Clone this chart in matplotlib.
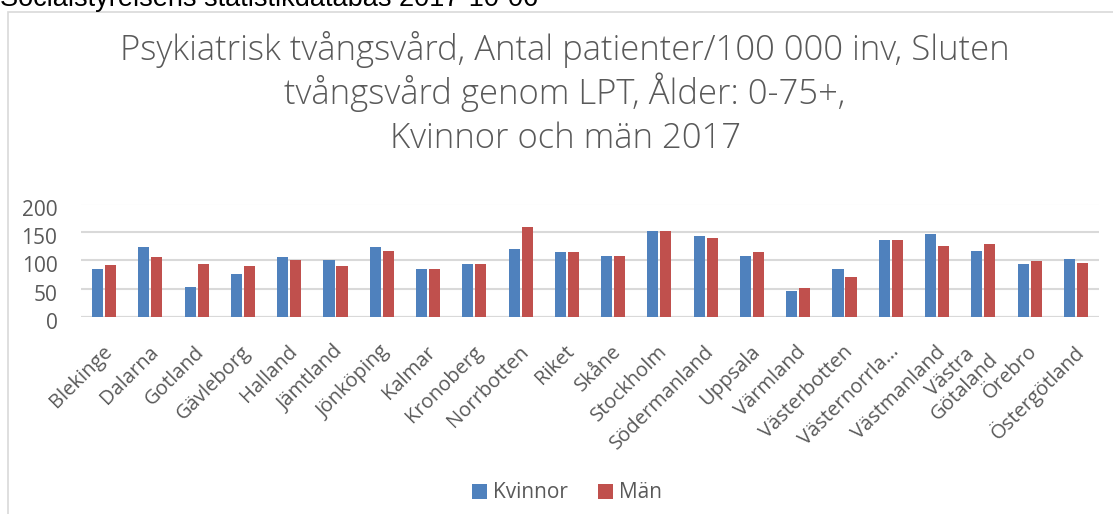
import matplotlib
matplotlib.use("Agg")
import matplotlib.pyplot as plt
from matplotlib.patches import Rectangle
from matplotlib.transforms import ScaledTranslation
import numpy as np

# data
regions = ["Blekinge", "Dalarna", "Gotland", "Gävleborg", "Halland", "Jämtland",
           "Jönköping", "Kalmar", "Kronoberg", "Norrbotten", "Riket", "Skåne",
           "Stockholm", "Södermanland", "Uppsala", "Värmland", "Västerbotten",
           "Västernorrla…", "Västmanland", "Västra\nGötaland", "Örebro", "Östergötland"]
kvinnor = [85, 123, 53, 75, 105, 101, 123, 85, 94, 119, 114, 107,
           152, 143, 107, 46, 84, 135, 146, 116, 94, 103]
man = [91, 105, 94, 89, 100, 89, 116, 84, 94, 159, 114, 107,
       152, 139, 114, 51, 71, 135, 125, 128, 98, 96]
yticks = [0, 50, 100, 150, 200]

blue = "#4F81BD"
red = "#C0504D"
grey_txt = "#595959"
W, H = 1113, 514

plt.rcParams['font.family'] = ['Open Sans', 'DejaVu Sans']
fig = plt.figure(figsize=(W / 100, H / 100), dpi=100)

# chart frame (cropped at right/bottom)
fig.patches.append(Rectangle((8 / W, -0.1), 1.2, 1 - 12 / H + 0.1, transform=fig.transFigure,
                             fill=False, edgecolor="#D9D9D9", linewidth=1.2))
fig.text(0, 1 - 6 / H, "Socialstyrelsens statistikdatabas 2017-10-06", fontsize=19.5,
         family="Liberation Sans", va="baseline", ha="left", color="black")

ax = fig.add_axes([81 / W, 1 - 317 / H, (1099 - 81) / W, (317 - 203.5) / H])
x = np.arange(len(regions))
bw = 0.24
ax.bar(x - 0.14, kvinnor, bw, color=blue, label="Kvinnor", zorder=3)
ax.bar(x + 0.14, man, bw, color=red, label="Män", zorder=3)

ax.set_xlim(-0.5, len(regions) - 0.5)
ax.set_ylim(0, 200)
ax.set_yticks(yticks)
ax.yaxis.grid(True, color="#D9D9D9", linewidth=1.5, zorder=0)
for s in ["top", "right", "left", "bottom"]:
    ax.spines[s].set_visible(False)
ax.axhline(0, color="#D9D9D9", linewidth=1.5, zorder=2)
ax.tick_params(axis="both", length=0, colors=grey_txt)
ax.tick_params(axis="y", labelsize=15, pad=17)
for lab in ax.get_yticklabels():
    lab.set_transform(lab.get_transform() + ScaledTranslation(0, -4 / 100, fig.dpi_scale_trans))

ax.set_xticks(x)
ax.set_xticklabels(regions, rotation=45, ha="right", va="center", rotation_mode="anchor",
                   fontsize=14.5, color=grey_txt, linespacing=1.0, multialignment="center")
ax.tick_params(axis="x", pad=23)
for lab in ax.get_xticklabels():
    lab.set_transform(lab.get_transform() + ScaledTranslation(5 / 100, 0, fig.dpi_scale_trans))

title_lines = ["Psykiatrisk tvångsvård, Antal patienter/100 000 inv, Sluten",
               "tvångsvård genom LPT, Ålder: 0-75+,",
               "Kvinnor och män 2017"]
for i, line in enumerate(title_lines):
    fig.text(565 / W, 1 - (60 + 44 * i) / H, line, ha="center", va="baseline",
             fontsize=24.9, color=grey_txt, fontweight="light")

fig.legend(loc="center", bbox_to_anchor=(567 / W, 1 - 493 / H), ncol=2, frameon=False,
           fontsize=15, labelcolor=grey_txt, handlelength=0.75, handleheight=0.75,
           handletextpad=0.3, columnspacing=1.4)

fig.savefig("out.png", dpi=100)
